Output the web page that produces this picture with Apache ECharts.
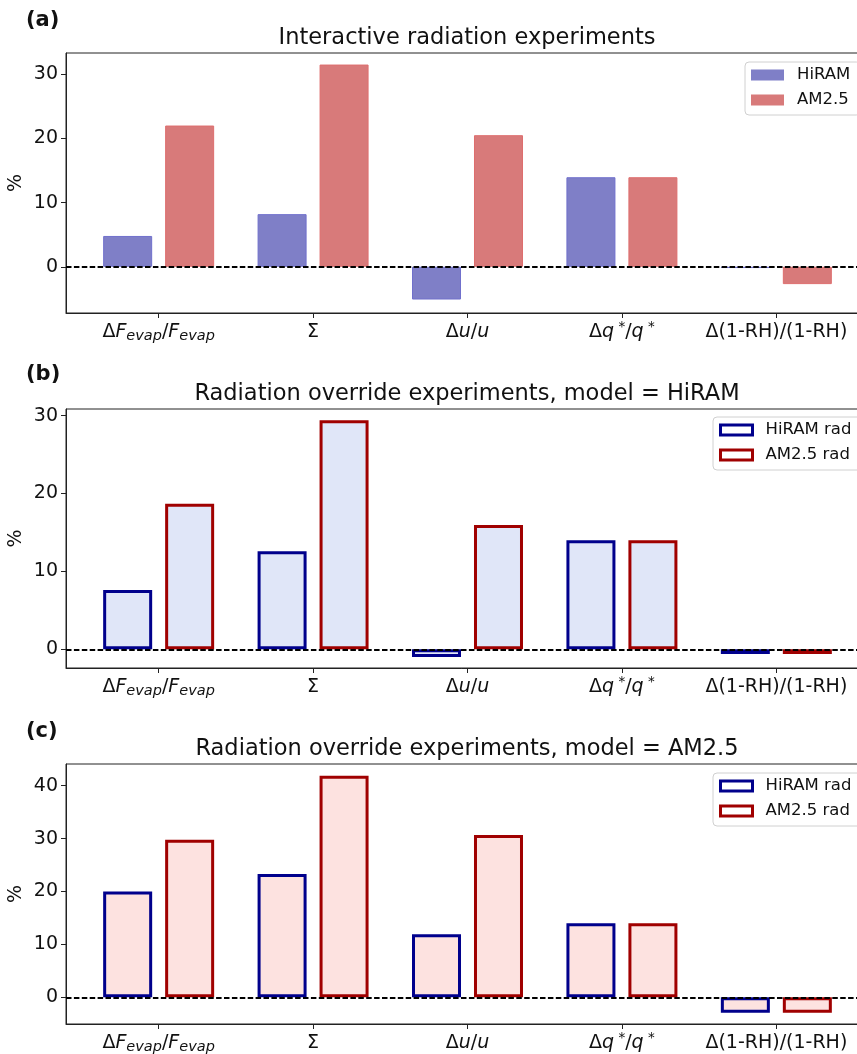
<!DOCTYPE html>
<html>
<head>
<meta charset="utf-8">
<script src="https://cdn.jsdelivr.net/npm/echarts@6/dist/echarts.min.js"></script>
<style>
html,body{margin:0;padding:0;background:#fff;}
#chart{width:857px;height:1054px;}
</style>
</head>
<body>
<div id="chart"></div>
<script>
// ---- data ----
const categories = ['ΔF_evap/F_evap', 'Σ', 'Δu/u', 'Δq*/q*', 'Δ(1-RH)/(1-RH)'];
const categoryLabels = [
  '{n|Δ}{i|F}{sub|evap}{n|/}{i|F}{sub|evap}',
  '{n|Σ}',
  '{n|Δ}{i|u}{n|/}{i|u}',
  '{n|Δ}{i|q}{sup| *}{n|/}{i|q}{sup| *}',
  '{n|Δ(1-RH)/(1-RH)}'
];
const titles = [
  'Interactive radiation experiments',
  'Radiation override experiments, model = HiRAM',
  'Radiation override experiments, model = AM2.5'
];
const panelLabels = ['(a)', '(b)', '(c)'];

// panel (a): interactive radiation
const aHiRAM = [4.8, 8.2, -5.1, 13.95, -0.2];
const aAM25  = [22.0, 31.5, 20.5, 13.95, -2.7];
// panel (b): model = HiRAM
const bHiRAMrad = [7.6, 12.6, -1.0, 14.0, -0.6];
const bAM25rad  = [18.7, 29.4, 15.95, 14.0, -0.6];
// panel (c): model = AM2.5
const cHiRAMrad = [20.0, 23.3, 11.9, 14.0, -2.9];
const cAM25rad  = [29.8, 41.9, 30.7, 14.0, -2.9];

const yTicksA = [0, 10, 20, 30];
const yTicksB = [0, 10, 20, 30];
const yTicksC = [0, 10, 20, 30, 40];
const yRangeA = [-7.2, 33.3];
const yRangeB = [-2.4, 30.85];
const yRangeC = [-5.05, 44.1];

// ---- build ----
const FONT = 'DejaVu Sans';
const catIdx = categories.map((c, i) => i);
const toPts = arr => arr.map((v, i) => [i, v]);

const grids = [
  {left: 66, top: 53, width: 803, height: 260},
  {left: 66, top: 409, width: 803, height: 259},
  {left: 66, top: 764, width: 803, height: 260}
].map(g => Object.assign(g, {show: true, containLabel: false, outerBoundsMode: 'none',
  borderColor: '#222', borderWidth: 1, backgroundColor: 'transparent'}));

const rich = {
  n:   {fontFamily: FONT, fontSize: 19, color: '#111', lineHeight: 24, verticalAlign: 'middle'},
  i:   {fontFamily: FONT, fontSize: 19, fontStyle: 'italic', color: '#111', lineHeight: 24, verticalAlign: 'middle'},
  sub: {fontFamily: FONT, fontSize: 14.5, fontStyle: 'italic', color: '#111', lineHeight: 15, verticalAlign: 'bottom'},
  sup: {fontFamily: FONT, fontSize: 13.5, color: '#111', lineHeight: 14, verticalAlign: 'top'}
};

const xAxes = [0, 1, 2].map(k => ({
  type: 'value', gridIndex: k, min: -0.6, max: 4.6,
  splitLine: {show: false},
  axisLine: {show: true, onZero: false, lineStyle: {color: '#222', width: 1}},
  axisTick: {show: true, customValues: catIdx, length: 5, lineStyle: {color: '#222'}},
  axisLabel: {show: true, customValues: catIdx, margin: 7, formatter: v => categoryLabels[Math.round(v)] || '', rich: rich}
}));

const yAxes = [[yRangeA, yTicksA], [yRangeB, yTicksB], [yRangeC, yTicksC]].map((p, k) => ({
  type: 'value', gridIndex: k, min: p[0][0], max: p[0][1],
  name: '%', nameLocation: 'middle', nameGap: 40, nameRotate: 90, nameMoveOverlap: false,
  nameTextStyle: {fontFamily: FONT, fontSize: 19, color: '#111'},
  splitLine: {show: false},
  axisLine: {show: true, onZero: false, lineStyle: {color: '#222', width: 1}},
  axisTick: {show: true, customValues: p[1], length: 5, lineStyle: {color: '#222'}},
  axisLabel: {show: true, customValues: p[1], margin: 8, fontFamily: FONT, fontSize: 19, color: '#111'}
}));

const zeroLine = {
  silent: true, symbol: 'none', label: {show: false},
  lineStyle: {color: '#000', type: [5.5, 2.4], width: 2},
  data: [{yAxis: 0}]
};

const NAVY = '#00008c', DARKRED = '#a00000';
function bar(name, k, data, itemStyle, withLine) {
  const s = {
    name: name, type: 'bar', xAxisIndex: k, yAxisIndex: k,
    data: toPts(data), barWidth: 49, barGap: '26.5%',
    itemStyle: itemStyle, emphasis: {disabled: true}, animation: false
  };
  if (withLine) s.markLine = zeroLine;
  return s;
}

const series = [
  bar('HiRAM', 0, aHiRAM, {color: '#7f7fc7', borderColor: '#7070cc', borderWidth: 1}, false),
  bar('AM2.5', 0, aAM25, {color: '#d87a7a', borderColor: '#de6e6e', borderWidth: 1}, true),
  bar('HiRAM rad', 1, bHiRAMrad, {color: '#e0e6f8', borderColor: NAVY, borderWidth: 3}, false),
  bar('AM2.5 rad', 1, bAM25rad, {color: '#e0e6f8', borderColor: DARKRED, borderWidth: 3}, true),
  bar('HiRAM rad ', 2, cHiRAMrad, {color: '#fde2e0', borderColor: NAVY, borderWidth: 3}, false),
  bar('AM2.5 rad ', 2, cAM25rad, {color: '#fde2e0', borderColor: DARKRED, borderWidth: 3}, true)
];

function legend(left, top, names, styles, w, h) {
  return {
    left: left, top: top, orient: 'vertical', selectedMode: false,
    itemWidth: w, itemHeight: h, itemGap: 7,
    padding: [4, 10, 6, 6],
    backgroundColor: '#fff', borderColor: '#d0d0d0', borderWidth: 1, borderRadius: 4,
    textStyle: {fontFamily: FONT, fontSize: 16.5, color: '#111', lineHeight: 18, padding: [0, 0, 0, 8]},
    formatter: n => n.trim(),
    data: names.map((n, i) => ({name: n, icon: 'rect', itemStyle: styles[i]}))
  };
}

const legends = [
  legend(745, 62, ['HiRAM', 'AM2.5'], [{color: '#7f7fc7', borderWidth: 0}, {color: '#d87a7a', borderWidth: 0}], 33, 11),
  legend(713, 417, ['HiRAM rad', 'AM2.5 rad'], [{color: '#fff', borderColor: NAVY, borderWidth: 3}, {color: '#fff', borderColor: DARKRED, borderWidth: 3}], 32, 10),
  legend(713, 773, ['HiRAM rad ', 'AM2.5 rad '], [{color: '#fff', borderColor: NAVY, borderWidth: 3}, {color: '#fff', borderColor: DARKRED, borderWidth: 3}], 32, 10)
];

const titleY = [38, 394, 749];
const labelY = [21, 375, 732];
const graphics = [];
titles.forEach((t, k) => {
  graphics.push({type: 'text', x: 467, y: titleY[k], style: {text: t, fontFamily: FONT, fontSize: 22.5, fill: '#111', textAlign: 'center', textVerticalAlign: 'middle'}});
  graphics.push({type: 'text', x: 26, y: labelY[k], style: {text: panelLabels[k], fontFamily: FONT, fontWeight: 'bold', fontSize: 21, fill: '#111', textAlign: 'left', textVerticalAlign: 'middle'}});
});

const chart = echarts.init(document.getElementById('chart'), null, {renderer: 'canvas'});
chart.setOption({
  animation: false,
  backgroundColor: '#fff',
  grid: grids,
  xAxis: xAxes,
  yAxis: yAxes,
  legend: legends,
  series: series,
  graphic: graphics
});
</script>
</body>
</html>
